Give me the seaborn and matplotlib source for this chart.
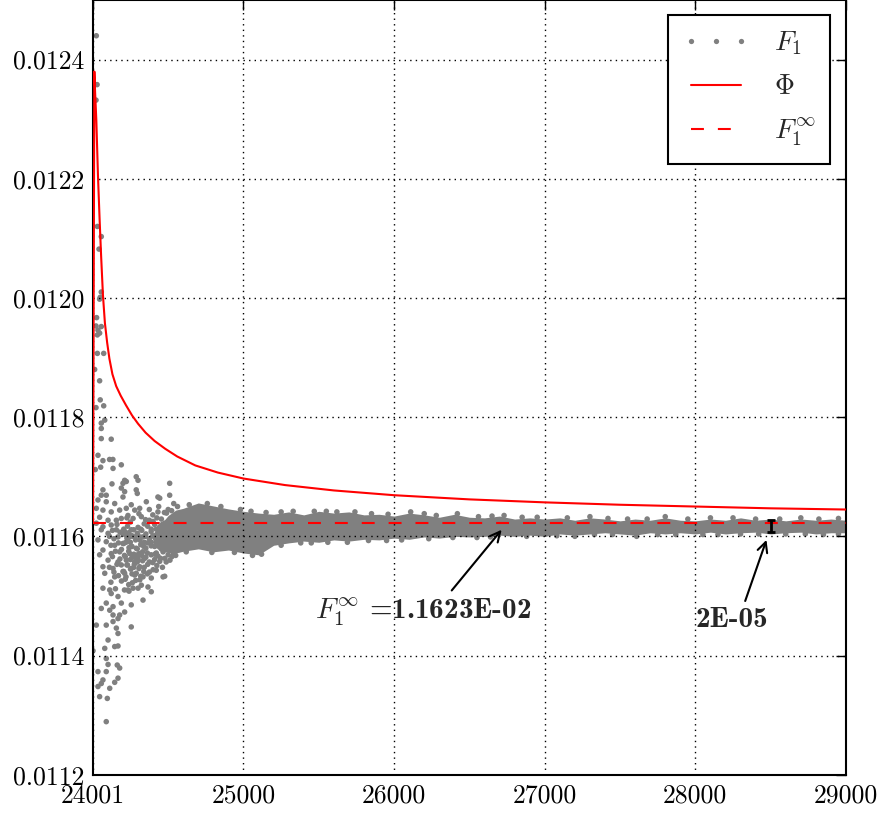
import matplotlib
matplotlib.use("Agg")
import matplotlib.pyplot as plt
import seaborn as sns
from matplotlib.lines import Line2D

# ---------------- data ----------------
f_inf = 0.011623

phi_x = [24001, 24010, 24015, 24023, 24034, 24045, 24055, 24067, 24080, 24095, 24110,
         24130, 24155, 24185, 24220, 24260, 24300, 24350, 24410, 24480, 24560, 24680,
         24830, 25000, 25276, 25600, 26000, 26500, 27000, 27500, 28000, 28500, 29000]
phi_y = [0.011622, 0.012380, 0.012345, 0.012299, 0.012205, 0.012131, 0.012070, 0.012005,
         0.011958, 0.011925, 0.011898, 0.011872, 0.011852, 0.011836, 0.011820, 0.011803,
         0.011789, 0.011774, 0.011760, 0.011747, 0.011734, 0.011719, 0.011707, 0.011697,
         0.011686, 0.011677, 0.011669, 0.011662, 0.011657, 0.011653, 0.011650, 0.011647,
         0.011645]

# individual F1 samples
f1_x = [
    24023, 24028, 24021, 24030, 24056, 24041, 24056, 24049, 24045, 24025, 24021, 24034,
    24056, 24045, 24030, 24030, 24072, 24012, 24045, 24049, 24072, 24021, 24079, 24056,
    24056, 24056, 24122,
    24034, 24067, 24111, 24133, 24052, 24016, 24134, 24189, 24288, 24300, 24211, 24200,
    24222, 24127, 24067, 24089, 24056, 24189, 24211, 24200, 24288, 24295, 24510, 24432,
    24444, 24355, 24510,
    24034, 24089, 24145, 24023, 24067, 24122, 24178, 24222, 24255, 24278, 24311, 24189,
    24233, 24267, 24322, 24156, 24101, 24045, 24023, 24067, 24122,
    24056, 24101, 24156, 24211, 24255, 24167, 24233, 24300, 24034, 24089, 24145, 24200,
    24255, 24322, 24067, 24122, 24178, 24245, 24300, 24045, 24101, 24167, 24222, 24278,
    24344, 24067, 24134, 24189, 24255, 24311, 24079, 24145, 24211, 24278, 24333, 24421,
    24477,
    24067, 24112, 24122, 24089, 24056, 24134, 24189, 24167, 24233, 24267, 24300, 24322,
    24366, 24388, 24388, 24466, 24333, 24255, 24211, 24178, 24134, 24112, 24023, 24089,
    24134, 24167, 24255, 24156, 24167, 24101, 24079, 24145, 24167, 24001, 24089, 24101,
    24162, 24178, 24034, 24089, 24067, 24056, 24167, 24145, 24112, 24034, 24045, 24096,
    24089,
    24205, 24205, 24205, 24215, 24215, 24215, 24226, 24226, 24226, 24238, 24238, 24238,
    24249, 24249, 24249, 24260, 24260, 24260, 24272, 24272, 24272, 24284, 24284, 24284,
    24295, 24295, 24295, 24306, 24306, 24306, 24318, 24318, 24318, 24330, 24330, 24330,
    24341, 24341, 24341, 24352, 24352, 24352, 24364, 24364, 24364, 24375, 24375, 24375,
    24387, 24387, 24387, 24398, 24398, 24398, 24410, 24410, 24410, 24421, 24421, 24421,
    24432, 24432, 24432, 24444, 24444, 24444, 24455, 24455, 24455, 24466, 24466, 24466,
    24478, 24478, 24478, 24489, 24489, 24489, 24500, 24500, 24500, 24512, 24512, 24512,
    24523, 24523, 24523, 24535, 24535, 24535, 24546, 24546, 24546,
    24110, 24110, 24120, 24120, 24130, 24130, 24140, 24140, 24150, 24150, 24160, 24160,
    24170, 24170, 24180, 24180, 24190, 24190, 24200, 24200, 24210, 24210, 24220, 24220,
    24230, 24230, 24240, 24240, 24250, 24250, 24262, 24262, 24275, 24275, 24288, 24288,
    24300, 24300, 24312, 24312, 24325, 24325, 24338, 24338, 24350, 24350, 24362, 24362,
    24375, 24375, 24388, 24388, 24400, 24400, 24412, 24412, 24425, 24425, 24437, 24437,
    24450, 24450, 24462, 24462, 24475, 24475, 24487, 24487, 24500, 24500, 24512, 24512,
    24525, 24525, 24537, 24537, 24550, 24550, 24562, 24562, 24575, 24575,
    24640, 24760, 24850, 24980, 25150, 25330, 25470, 25620, 25740, 25960, 26110, 26280,
    26420, 26560, 26730, 26950, 27150, 27420, 27680, 27950, 28250, 28560, 28820,
    25050, 25250, 25550, 25850, 26200, 26650, 26850, 27300, 27550, 27800, 28100, 28400,
    28700, 28950,
    24620, 24790, 24940, 25060, 25120, 25250, 25380, 25560, 25690, 25830, 26050, 26230,
    26390, 26640, 26880, 27080, 27330, 27610, 27870, 28150, 28420, 28730, 28950,
    25450, 25950, 26550, 27200, 27450, 27750, 28050, 28300, 28600, 28850,
]
f1_y = [
    0.012440, 0.012358, 0.012332, 0.012120, 0.012103, 0.012082, 0.012010, 0.012001,
    0.011998, 0.011967, 0.011953, 0.011946, 0.011952, 0.011941, 0.011938, 0.011907,
    0.011907, 0.011880, 0.011861, 0.011829, 0.011819, 0.011816, 0.011795, 0.011790,
    0.011781, 0.011764, 0.011763,
    0.011736, 0.011727, 0.011729, 0.011729, 0.011716, 0.011712, 0.011714, 0.011720,
    0.011700, 0.011694, 0.011694, 0.011689, 0.011692, 0.011688, 0.011678, 0.011669,
    0.011669, 0.011681, 0.011675, 0.011666, 0.011678, 0.011672, 0.011689, 0.011666,
    0.011664, 0.011658, 0.011669,
    0.011661, 0.011658, 0.011655, 0.011647, 0.011644, 0.011641, 0.011644, 0.011647,
    0.011653, 0.011644, 0.011647, 0.011630, 0.011635, 0.011630, 0.011633, 0.011627,
    0.011627, 0.011632, 0.011622, 0.011616, 0.011619,
    0.011611, 0.011605, 0.011611, 0.011608, 0.011611, 0.011599, 0.011597, 0.011602,
    0.011594, 0.011591, 0.011585, 0.011588, 0.011583, 0.011588, 0.011577, 0.011571,
    0.011574, 0.011571, 0.011569, 0.011569, 0.011560, 0.011557, 0.011560, 0.011557,
    0.011563, 0.011549, 0.011546, 0.011552, 0.011546, 0.011549, 0.011538, 0.011532,
    0.011538, 0.011535, 0.011532, 0.011543, 0.011533,
    0.011513, 0.011510, 0.011504, 0.011488, 0.011479, 0.011482, 0.011488, 0.011499,
    0.011510, 0.011513, 0.011513, 0.011518, 0.011515, 0.011507, 0.011530, 0.011532,
    0.011493, 0.011485, 0.011473, 0.011468, 0.011468, 0.011476, 0.011451, 0.011451,
    0.011457, 0.011462, 0.011448, 0.011446, 0.011437, 0.011426, 0.011412, 0.011415,
    0.011416, 0.011408, 0.011395, 0.011385, 0.011384, 0.011379, 0.011373, 0.011373,
    0.011359, 0.011353, 0.011362, 0.011355, 0.011345, 0.011348, 0.011331, 0.011328,
    0.011289,
    0.011588, 0.011541, 0.011612, 0.011566, 0.011603, 0.011528, 0.011597, 0.011552,
    0.011631, 0.011575, 0.011519, 0.011606, 0.011561, 0.011624, 0.011590, 0.011583,
    0.011537, 0.011601, 0.011548, 0.011611, 0.011570, 0.011594, 0.011526, 0.011563,
    0.011605, 0.011557, 0.011579, 0.011571, 0.011638, 0.011546, 0.011586, 0.011533,
    0.011612, 0.011559, 0.011599, 0.011574, 0.011621, 0.011548, 0.011590, 0.011580,
    0.011565, 0.011604, 0.011553, 0.011617, 0.011589, 0.011596, 0.011540, 0.011627,
    0.011569, 0.011608, 0.011584, 0.011601, 0.011556, 0.011636, 0.011583, 0.011620,
    0.011561, 0.011612, 0.011572, 0.011595, 0.011567, 0.011603, 0.011641, 0.011591,
    0.011558, 0.011616, 0.011606, 0.011579, 0.011629, 0.011574, 0.011612, 0.011593,
    0.011598, 0.011563, 0.011622, 0.011585, 0.011639, 0.011604, 0.011617, 0.011569,
    0.011596, 0.011590, 0.011626, 0.011578, 0.011608, 0.011581, 0.011643, 0.011596,
    0.011620, 0.011572, 0.011611, 0.011587, 0.011634,
    0.011600, 0.011548, 0.011585, 0.011523, 0.011610, 0.011566, 0.011540, 0.011596,
    0.011575, 0.011512, 0.011620, 0.011553, 0.011589, 0.011534, 0.011562, 0.011607,
    0.011525, 0.011578, 0.011604, 0.011541, 0.011568, 0.011510, 0.011590, 0.011532,
    0.011552, 0.011617, 0.011581, 0.011508, 0.011545, 0.011600, 0.011566, 0.011522,
    0.011599, 0.011553, 0.011538, 0.011580, 0.011562, 0.011615, 0.011527, 0.011594,
    0.011568, 0.011610, 0.011541, 0.011583, 0.011600, 0.011628, 0.011572, 0.011537,
    0.011557, 0.011645, 0.011590, 0.011612, 0.011544, 0.011625, 0.011598, 0.011570,
    0.011631, 0.011551, 0.011585, 0.011650, 0.011563, 0.011609, 0.011620, 0.011548,
    0.011591, 0.011640, 0.011557, 0.011611, 0.011645, 0.011583, 0.011560, 0.011602,
    0.011620, 0.011566, 0.011590, 0.011655, 0.011568, 0.011612, 0.011600, 0.011650,
    0.011578, 0.011630,
    0.011653, 0.011655, 0.011650, 0.011645, 0.011640, 0.011642, 0.011642, 0.011641,
    0.011641, 0.011637, 0.011641, 0.011635, 0.011638, 0.011633, 0.011635, 0.011632,
    0.011631, 0.011630, 0.011629, 0.011629, 0.011631, 0.011629, 0.011629,
    0.011642, 0.011641, 0.011642, 0.011638, 0.011638, 0.011634, 0.011632, 0.011633,
    0.011629, 0.011633, 0.011631, 0.011629, 0.011631, 0.011630,
    0.011574, 0.011573, 0.011573, 0.011568, 0.011570, 0.011585, 0.011589, 0.011590,
    0.011590, 0.011593, 0.011594, 0.011596, 0.011598, 0.011599, 0.011600, 0.011601,
    0.011603, 0.011600, 0.011603, 0.011603, 0.011604, 0.011604, 0.011604,
    0.011589, 0.011593, 0.011598, 0.011600, 0.011603, 0.011603, 0.011603, 0.011604,
    0.011604, 0.011603,
]

# dense band of F1 samples (outer edges)
band_x = [24400, 24450, 24500, 24550, 24600, 24700, 24800, 24900, 25000, 25100, 25200,
          25300, 25400, 25500, 25600, 25700, 25800, 25900, 26000, 26100, 26200, 26300,
          26400, 26500, 26600, 26700, 26800, 26900, 27000, 27100, 27200, 27300, 27400,
          27500, 27600, 27700, 27800, 27900, 28000, 28100, 28200, 28300, 28400, 28500,
          28600, 28700, 28800, 28900, 29000]
band_hi = [0.011605, 0.011620, 0.011635, 0.011644, 0.011647, 0.011656, 0.011651, 0.011646,
           0.011642, 0.011639, 0.011637, 0.011641, 0.011636, 0.011642, 0.011639, 0.011641,
           0.011636, 0.011637, 0.011634, 0.011639, 0.011636, 0.011632, 0.011637, 0.011632,
           0.011631, 0.011634, 0.011629, 0.011631, 0.011629, 0.011631, 0.011627, 0.011631,
           0.011629, 0.011626, 0.011629, 0.011627, 0.011631, 0.011627, 0.011626, 0.011629,
           0.011627, 0.011631, 0.011627, 0.011629, 0.011626, 0.011629, 0.011627, 0.011629,
           0.011627]
band_lo = [0.011585, 0.011575, 0.011573, 0.011572, 0.011575, 0.011579, 0.011574, 0.011577,
           0.011572, 0.011569, 0.011585, 0.011589, 0.011592, 0.011590, 0.011594, 0.011592,
           0.011595, 0.011594, 0.011597, 0.011595, 0.011599, 0.011597, 0.011600, 0.011599,
           0.011600, 0.011602, 0.011600, 0.011602, 0.011600, 0.011604, 0.011602, 0.011604,
           0.011606, 0.011604, 0.011602, 0.011606, 0.011604, 0.011606, 0.011604, 0.011607,
           0.011604, 0.011606, 0.011607, 0.011604, 0.011606, 0.011607, 0.011604, 0.011606,
           0.011606]

err_x = 28500
err_y = 0.011617
err_half = 0.00001

x_ticks = [24001, 25000, 26000, 27000, 28000, 29000]
x_labels = ["24001", "25000", "26000", "27000", "28000", "29000"]
y_ticks = [0.0112, 0.0114, 0.0116, 0.0118, 0.0120, 0.0122, 0.0124]
y_labels = ["0.0112", "0.0114", "0.0116", "0.0118", "0.0120", "0.0122", "0.0124"]

# ---------------- plot ----------------
sns.set_style("white")
plt.rcParams["font.family"] = ["cmr10", "DejaVu Serif"]
plt.rcParams["mathtext.fontset"] = "cm"
plt.rcParams["axes.formatter.use_mathtext"] = True

GRAY = "#808080"
RED = "#ff0000"

fig = plt.figure(figsize=(8.8, 8.13), dpi=100)
ax = fig.add_axes([0.10568, 0.04711, 0.85568, 0.95289])

ax.fill_between(band_x, band_lo, band_hi, color=GRAY, lw=0, zorder=1)
sns.scatterplot(x=f1_x, y=f1_y, color=GRAY, s=16, edgecolor="none", linewidth=0,
                ax=ax, zorder=1, legend=False)
sns.lineplot(x=phi_x, y=phi_y, color=RED, lw=1.5, ax=ax, zorder=3, legend=False,
             estimator=None, sort=False)
ax.plot([x_ticks[0], x_ticks[-1]], [f_inf, f_inf], color=RED, lw=1.5,
        dashes=(6.2, 6.7), zorder=3)
ax.errorbar([err_x], [err_y], yerr=[err_half], color="black", lw=2, capsize=3,
            capthick=2, zorder=4)

ax.set_xlim(24001, 29000)
ax.set_ylim(0.0112, 0.0125)
ax.set_xticks(x_ticks)
ax.set_xticklabels(x_labels)
ax.set_yticks(y_ticks)
ax.set_yticklabels(y_labels)
ax.tick_params(direction="in", length=7, width=1, top=True, right=True,
               labelsize=18.5, colors="black")
ax.tick_params(axis="y", pad=6)
ax.tick_params(axis="x", pad=6.5)
ax.grid(True, color="black", linestyle=(0, (1, 3)), lw=1)
ax.set_axisbelow(False)
for sp in ax.spines.values():
    sp.set_color("black")
    sp.set_linewidth(1.5)

ax.annotate(r"$F_1^\infty$ =1.1623E-02", xy=(26714, 0.011611), xytext=(26195, 0.011463),
            ha="center", va="baseline", fontsize=21, family="cmb10",
            arrowprops=dict(arrowstyle="->", color="black", lw=1.5, relpos=(0.61, 1.0),
                            shrinkA=2, shrinkB=0, mutation_scale=18))
ax.annotate("2E-05", xy=(28472, 0.011594), xytext=(28240, 0.011448),
            ha="center", va="baseline", fontsize=21, family="cmb10",
            arrowprops=dict(arrowstyle="->", color="black", lw=1.5, relpos=(0.66, 1.0),
                            shrinkA=2, shrinkB=0, mutation_scale=18))

handles = [
    Line2D([], [], ls="none", marker="o", color=GRAY, markersize=3.8, markeredgewidth=0),
    Line2D([], [], color=RED, lw=1.5),
    Line2D([], [], color=RED, lw=1.5, dashes=(6.2, 6.7)),
]
labels = [r"$F_1$", r"$\Phi$", r"$F_1^\infty$"]
leg = ax.legend(handles, labels, loc="upper right", bbox_to_anchor=(0.9788, 0.9806),
                borderaxespad=0, numpoints=3, fontsize=20, frameon=True, fancybox=False,
                handlelength=2.4, handletextpad=0.9, labelspacing=0.6, borderpad=0.53)
leg.get_frame().set_edgecolor("black")
leg.get_frame().set_linewidth(1.5)
leg.get_frame().set_alpha(1)

fig.savefig("out.png", dpi=100)
